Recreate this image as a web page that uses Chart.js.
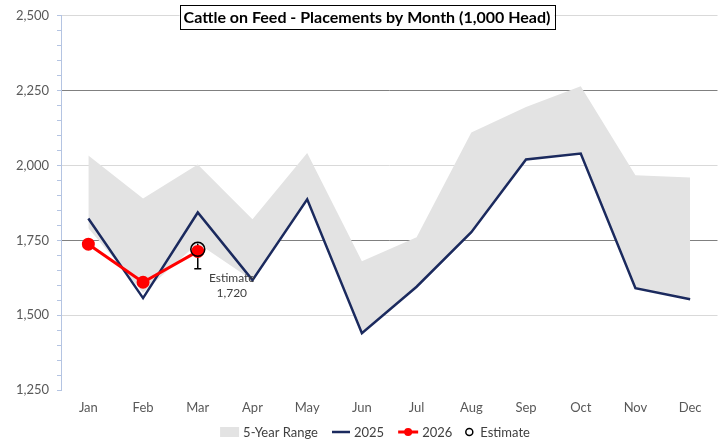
<!DOCTYPE html>
<html>
<head>
<meta charset="utf-8">
<script src="https://cdn.jsdelivr.net/npm/chart.js@4"></script>
<style>
  html, body { margin: 0; padding: 0; background: #fff; }
  #wrap { width: 726px; height: 441px; }
</style>
</head>
<body>
<div id="wrap"><canvas id="chart" width="726" height="441"></canvas></div>
<script>
// Chart data
const months = ['Jan', 'Feb', 'Mar', 'Apr', 'May', 'Jun', 'Jul', 'Aug', 'Sep', 'Oct', 'Nov', 'Dec'];
const rangeHigh = [2033, 1890, 2003, 1820, 2042, 1680, 1760, 2110, 2195, 2265, 1967, 1960];
const rangeLow = [1790, 1575, 1740, 1617, 1887, 1440, 1593, 1777, 2020, 2040, 1590, 1553];
const values2025 = [1823, 1557, 1843, 1617, 1887, 1440, 1595, 1777, 2020, 2040, 1590, 1553];
const values2026 = [1737, 1610, 1713, null, null, null, null, null, null, null, null, null];
const estimate = [null, null, 1720, null, null, null, null, null, null, null, null, null];
const estimateHigh = 1755;
const estimateLow = 1655;
const yTicks = [1250, 1500, 1750, 2000, 2250, 2500];

const FONT = 'Lato, "Open Sans", sans-serif';
const RANGE_COLOR = '#e3e3e3';
const NAVY = '#1b2a5e';
const RED = '#ff0000';

// Error bar under the estimate marker
const errorBarPlugin = {
    id: 'errorBar',
    beforeDatasetsDraw(chart) {
        const ctx = chart.ctx;
        const x = chart.scales.x;
        const y = chart.scales.y;
        const i = estimate.findIndex((v) => v !== null);
        const px = x.getPixelForValue(i);
        const top = y.getPixelForValue(estimateHigh);
        const bottom = y.getPixelForValue(estimateLow);
        ctx.save();
        ctx.strokeStyle = '#000';
        ctx.lineWidth = 1.5;
        ctx.beginPath();
        ctx.moveTo(px, top);
        ctx.lineTo(px, bottom);
        ctx.moveTo(px - 3.5, top);
        ctx.lineTo(px + 3.5, top);
        ctx.moveTo(px - 3.5, bottom);
        ctx.lineTo(px + 3.5, bottom);
        ctx.stroke();
        ctx.restore();
    },
};

// Title box, estimate annotation and legend
const decorPlugin = {
    id: 'decor',
    afterDraw(chart) {
        const ctx = chart.ctx;
        const x = chart.scales.x;
        const y = chart.scales.y;
        ctx.save();

        // Title
        const title = 'Cattle on Feed - Placements by Month (1,000 Head)';
        ctx.font = 'bold 16px ' + FONT;
        const tw = ctx.measureText(title).width;
        const cx = 367;
        ctx.fillStyle = '#fff';
        ctx.fillRect(cx - tw / 2 - 4, 5, tw + 8, 24);
        ctx.strokeStyle = '#000';
        ctx.lineWidth = 1;
        ctx.strokeRect(Math.round(cx - tw / 2 - 4) + 0.5, 5.5, Math.round(tw + 8), 24);
        ctx.fillStyle = '#000';
        ctx.textAlign = 'center';
        ctx.textBaseline = 'middle';
        ctx.fillText(title, cx, 18);

        // Estimate annotation
        const i = estimate.findIndex((v) => v !== null);
        const ex = x.getPixelForValue(i);
        const ey = y.getPixelForValue(estimate[i]);
        ctx.font = '12px ' + FONT;
        ctx.fillStyle = '#404040';
        ctx.fillText('Estimate', ex + 34, ey + 29);
        ctx.fillText(estimate[i].toLocaleString('en-US'), ex + 34, ey + 44);

        // Legend
        ctx.font = '13px ' + FONT;
        const items = [
            { text: '5-Year Range', kind: 'box', w: 19 },
            { text: '2025', kind: 'line', w: 18 },
            { text: '2026', kind: 'dotline', w: 20 },
            { text: 'Estimate', kind: 'circle', w: 10 },
        ];
        const gap = 4;
        const sep = 14;
        let total = 0;
        items.forEach((it, k) => {
            it.tw = ctx.measureText(it.text).width;
            total += it.w + gap + it.tw + (k < items.length - 1 ? sep : 0);
        });
        let lx = 375 - total / 2;
        const ly = 432;
        ctx.textAlign = 'left';
        items.forEach((it) => {
            if (it.kind === 'box') {
                ctx.fillStyle = RANGE_COLOR;
                ctx.fillRect(lx, ly - 5, it.w, 10);
            } else if (it.kind === 'line') {
                ctx.strokeStyle = NAVY;
                ctx.lineWidth = 2.5;
                ctx.beginPath();
                ctx.moveTo(lx, ly);
                ctx.lineTo(lx + it.w, ly);
                ctx.stroke();
            } else if (it.kind === 'dotline') {
                ctx.strokeStyle = RED;
                ctx.lineWidth = 3;
                ctx.beginPath();
                ctx.moveTo(lx, ly);
                ctx.lineTo(lx + it.w, ly);
                ctx.stroke();
                ctx.fillStyle = RED;
                ctx.beginPath();
                ctx.arc(lx + it.w / 2, ly, 4, 0, Math.PI * 2);
                ctx.fill();
            } else {
                ctx.strokeStyle = '#000';
                ctx.lineWidth = 1.5;
                ctx.beginPath();
                ctx.arc(lx + it.w / 2 - 2, ly, 3.5, 0, Math.PI * 2);
                ctx.stroke();
            }
            lx += it.w + gap;
            ctx.fillStyle = '#404040';
            ctx.fillText(it.text, lx, ly + 0.5);
            lx += it.tw + sep;
        });
        ctx.restore();
    },
};

const ctx = document.getElementById('chart').getContext('2d');
new Chart(ctx, {
    type: 'line',
    data: {
        labels: months,
        datasets: [
            {
                label: 'Estimate',
                data: estimate,
                showLine: false,
                pointRadius: 7,
                pointBorderWidth: 1.5,
                pointBorderColor: '#000',
                pointBackgroundColor: 'rgba(0,0,0,0)',
            },
            {
                label: '2026',
                data: values2026,
                borderColor: RED,
                borderWidth: 3,
                pointRadius: 5,
                pointBackgroundColor: RED,
                pointBorderColor: RED,
                tension: 0,
            },
            {
                label: '2025',
                data: values2025,
                borderColor: NAVY,
                borderWidth: 2.5,
                pointRadius: 0,
                tension: 0,
            },
            {
                label: '5-Year Range',
                data: rangeHigh,
                borderWidth: 0,
                borderColor: 'rgba(0,0,0,0)',
                backgroundColor: RANGE_COLOR,
                pointRadius: 0,
                fill: '+1',
                tension: 0,
            },
            {
                label: 'Range low',
                data: rangeLow,
                borderWidth: 0,
                borderColor: 'rgba(0,0,0,0)',
                pointRadius: 0,
                fill: false,
                tension: 0,
            },
        ],
    },
    options: {
        responsive: false,
        animation: false,
        layout: { padding: { top: 15, right: 2, bottom: 21, left: 0 } },
        plugins: {
            legend: { display: false },
            tooltip: { enabled: false },
            title: { display: false },
        },
        scales: {
            x: {
                offset: true,
                grid: { display: false, drawTicks: false },
                border: { display: false },
                ticks: {
                    color: '#595959',
                    font: { family: FONT, size: 13 },
                    padding: 10,
                    maxRotation: 0,
                },
                afterFit(scale) { scale.height = 30; },
            },
            y: {
                min: 1250,
                max: 2500,
                border: { display: true, color: '#b4c4e2', width: 1 },
                grid: {
                    drawTicks: true,
                    tickLength: 4,
                    tickColor: '#b4c4e2',
                    color(c) {
                        const v = c.tick.value;
                        if (v === 2250 || v === 1750) return '#808080';
                        if (yTicks.includes(v) && v !== 1250) return '#d9d9d9';
                        return 'rgba(0,0,0,0)';
                    },
                },
                ticks: {
                    stepSize: 50,
                    autoSkip: false,
                    color: '#595959',
                    font: { family: FONT, size: 13 },
                    padding: 8,
                    callback(v) {
                        return yTicks.includes(v) ? v.toLocaleString('en-US') : '';
                    },
                },
                afterFit(scale) { scale.width = 61; },
            },
        },
    },
    plugins: [errorBarPlugin, decorPlugin],
});
</script>
</body>
</html>
